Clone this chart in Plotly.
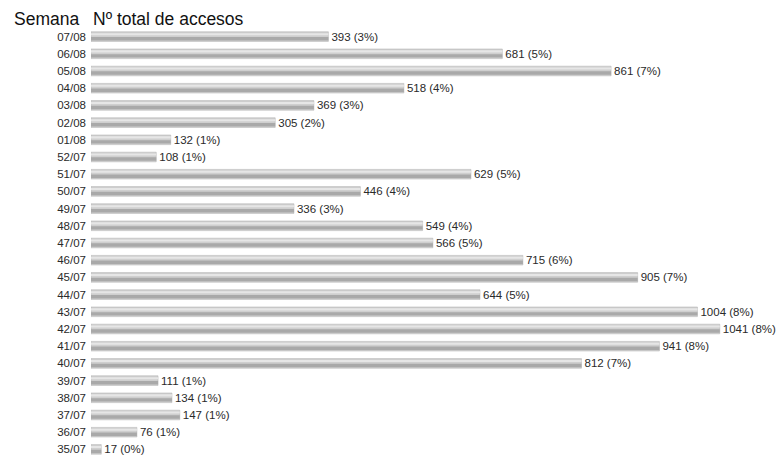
import plotly.graph_objects as go

weeks = ["07/08", "06/08", "05/08", "04/08", "03/08", "02/08", "01/08", "52/07",
         "51/07", "50/07", "49/07", "48/07", "47/07", "46/07", "45/07", "44/07",
         "43/07", "42/07", "41/07", "40/07", "39/07", "38/07", "37/07", "36/07", "35/07"]
accesses = [393, 681, 861, 518, 369, 305, 132, 108,
            629, 446, 336, 549, 566, 715, 905, 644,
            1004, 1041, 941, 812, 111, 134, 147, 76, 17]
percents = [3, 5, 7, 4, 3, 2, 1, 1,
            5, 4, 3, 4, 5, 6, 7, 5,
            8, 8, 8, 7, 1, 1, 1, 1, 0]

labels = [f"{v} ({p}%)" for v, p in zip(accesses, percents)]
FONT = "Liberation Sans, Arial, sans-serif"

fig = go.Figure()
# main bar body
fig.add_trace(go.Bar(
    y=weeks, x=accesses, orientation="h", width=0.56,
    marker=dict(color="#cfcfcf", line=dict(color="#b0b0b0", width=0.5)),
    text=labels, textposition="outside", cliponaxis=False, constraintext="none",
    textfont=dict(family=FONT, size=11.5, color="#2a2a2a"),
    hoverinfo="skip", showlegend=False,
))
# darker shading stripe (gradient imitation)
fig.add_trace(go.Bar(
    y=weeks, x=accesses, orientation="h", width=0.2, offset=0.02,
    marker=dict(color="#a9a9a9", line=dict(width=0)),
    hoverinfo="skip", showlegend=False,
))
fig.add_trace(go.Bar(
    y=weeks, x=accesses, orientation="h", width=0.12, offset=-0.2,
    marker=dict(color="#e6e6e6", line=dict(width=0)),
    hoverinfo="skip", showlegend=False,
))

W, H = 779, 466
L, T, B = 91, 28, 8
pw, ph = W - L, H - T - B

def px2paper(x, y):
    return (x - L) / pw, (H - B - y) / ph

titles = [("Semana", 12, 19), ("Nº total de accesos", 91, 19)]
anns = []
for txt, x, y in titles:
    ax, ay = px2paper(x, y)
    anns.append(dict(text=txt, x=ax, y=ay, xref="paper", yref="paper",
                     xanchor="left", yanchor="middle", showarrow=False,
                     font=dict(size=17.5, color="#111111", family=FONT)))

fig.update_layout(
    width=W, height=H,
    margin=dict(l=L, r=0, t=T, b=B),
    paper_bgcolor="white", plot_bgcolor="white",
    barmode="overlay",
    font=dict(family=FONT, color="#2a2a2a"),
    xaxis=dict(range=[0, 1139], visible=False, fixedrange=True),
    yaxis=dict(autorange="reversed", showgrid=False, zeroline=False, showline=False,
               ticks="", ticklabelstandoff=4,
               tickfont=dict(size=11.5, color="#2a2a2a", family=FONT)),
    annotations=anns,
)

fig.write_html("out.html")
